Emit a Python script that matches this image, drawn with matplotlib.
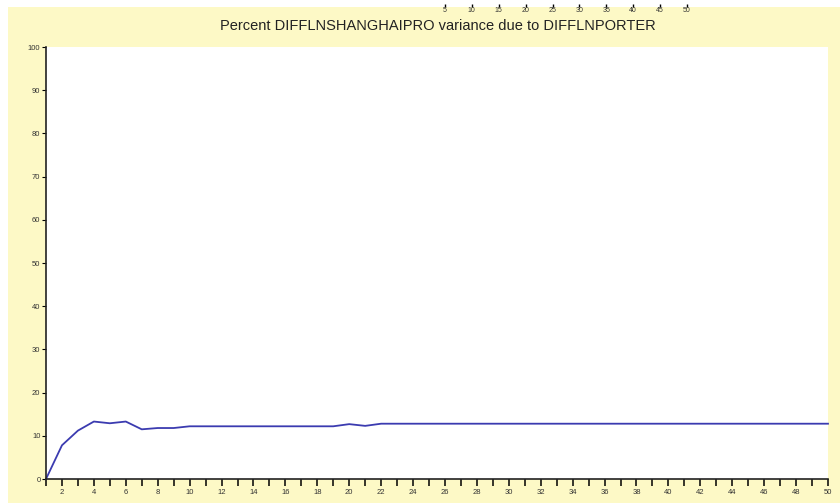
import matplotlib
matplotlib.use("Agg")
import matplotlib.pyplot as plt
from matplotlib.patches import Rectangle

plt.rcParams['font.family'] = ['Liberation Sans', 'DejaVu Sans']

# forecast horizon and variance share (percent)
periods = list(range(1, 51))
share = [0.0, 7.8, 11.2, 13.3, 12.9, 13.3, 11.5, 11.8, 11.8, 12.2,
         12.2, 12.2, 12.2, 12.2, 12.2, 12.2, 12.2, 12.2, 12.2, 12.7,
         12.3, 12.8, 12.8, 12.8, 12.8, 12.8, 12.8, 12.8, 12.8, 12.8,
         12.8, 12.8, 12.8, 12.8, 12.8, 12.8, 12.8, 12.8, 12.8, 12.8,
         12.8, 12.8, 12.8, 12.8, 12.8, 12.8, 12.8, 12.8, 12.8, 12.8]
y_ticks = [0, 10, 20, 30, 40, 50, 60, 70, 80, 90, 100]
x_labels = list(range(2, 51, 2))
stray_ticks = [5, 10, 15, 20, 25, 30, 35, 40, 45, 50]

W, H = 840, 503
fig = plt.figure(figsize=(W / 100, H / 100), dpi=100, facecolor='white')

# yellow frame behind the plot
fig.patches.append(Rectangle((8 / W, 0), 1, 1 - 7 / H, transform=fig.transFigure,
                             facecolor='#fdf9c6', edgecolor='none', zorder=-10))

ax = fig.add_axes([46 / W, 1 - 479 / H, (828 - 46) / W, (479 - 47) / H])
ax.set_facecolor('white')
ax.plot(periods, share, color='#3b3bb0', lw=1.3, clip_on=False)
ax.set_xlim(1, 50)
ax.set_ylim(0, 100)
for s in ['top', 'right']:
    ax.spines[s].set_visible(False)
for s in ['left', 'bottom']:
    ax.spines[s].set_linewidth(1.2)
    ax.spines[s].set_color('#222222')
ax.set_yticks(y_ticks)
ax.set_xticks(periods, minor=True)
ax.set_xticks(x_labels)
ax.tick_params(axis='y', length=3, width=0.8, labelsize=5.5, labelcolor='#333333', pad=1)
ax.tick_params(axis='x', which='both', length=5, width=1.1, labelsize=5.5,
               labelcolor='#333333', pad=2)

fig.text(438 / W, 1 - 26 / H, 'Percent DIFFLNSHANGHAIPRO variance due to DIFFLNPORTER',
         ha='center', va='center', fontsize=10.5, color='#222222')

# leftover axis labels at the very top
ax2 = fig.add_axes([418 / W, 1 - 4 / H, (687 - 418) / W, 0.001])
ax2.set_xlim(0, 50)
ax2.set_yticks([])
ax2.set_xticks(stray_ticks)
for s in ax2.spines.values():
    s.set_visible(False)
ax2.patch.set_visible(False)
ax2.tick_params(axis='x', length=2, width=1, labelsize=5, labelcolor='#333333', pad=0.5)

fig.savefig('out.png', dpi=100, facecolor='white')
